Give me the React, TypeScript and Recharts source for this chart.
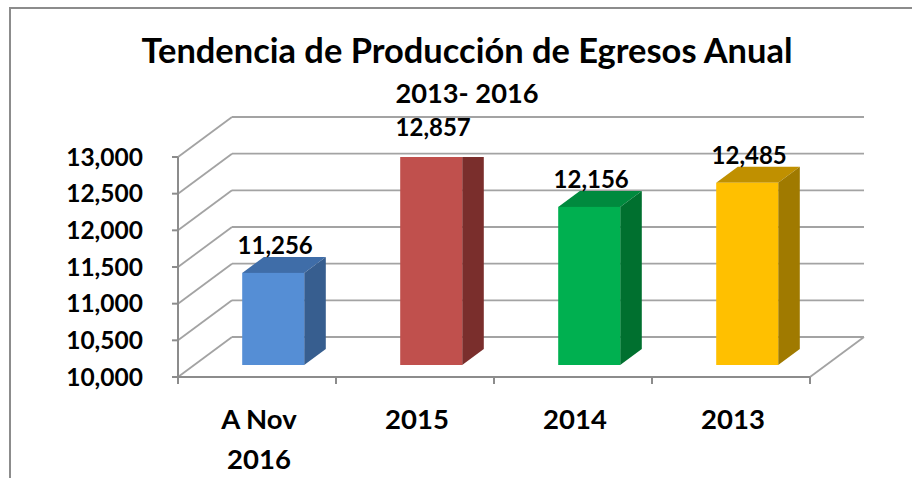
import React from 'react';
import { BarChart, Bar, XAxis, YAxis, CartesianGrid, LabelList, Customized } from 'recharts';

const categories = ['A Nov 2016', '2015', '2014', '2013'];
const egresos = [11256, 12857, 12156, 12485];
const yTicks = [10000, 10500, 11000, 11500, 12000, 12500, 13000];

const frontColors = ['#558ED5', '#C0504D', '#00B050', '#FFC000'];
const topColors = ['#3F6DA8', '#943634', '#008A3E', '#C09000'];
const sideColors = ['#375E8F', '#7A2E2C', '#00702F', '#A07A00'];

const data = categories.map((cat, i) => ({ cat, value: egresos[i] }));

// depth of the 3D box (back wall offset) and where the bars sit inside it
const DX = 54;
const DY = -40;
const FRONT = 0.3;
const DEPTH = 0.4;

const FONT = 'Lato, "Noto Sans", sans-serif';
const GRID = '#a3a3a3';
const AXIS = '#8c8c8c';

function Box3D(props: any) {
  const { x, y, width, height, index } = props;
  if (width == null || height == null) return null;
  const fx = Number(x) + DX * FRONT;
  const fy = Number(y) + DY * FRONT;
  const ox = DX * DEPTH;
  const oy = DY * DEPTH;
  const w = Number(width);
  const h = Number(height);
  return (
    <g>
      <polygon
        points={`${fx},${fy} ${fx + ox},${fy + oy} ${fx + w + ox},${fy + oy} ${fx + w},${fy}`}
        fill={topColors[index]}
      />
      <polygon
        points={`${fx + w},${fy} ${fx + w + ox},${fy + oy} ${fx + w + ox},${fy + h + oy} ${fx + w},${fy + h}`}
        fill={sideColors[index]}
      />
      <rect x={fx} y={fy} width={w} height={h} fill={frontColors[index]} />
    </g>
  );
}

function ValueLabel(props: any) {
  const { x, y, width, value } = props;
  return (
    <text
      x={Number(x) + Number(width) / 2 + DX * FRONT + 2}
      y={Number(y) + DY * FRONT - 19}
      textAnchor="middle"
      fontFamily={FONT}
      fontWeight={700}
      fontSize={24}
      fill="#000"
    >
      {Number(value).toLocaleString('en-US')}
    </text>
  );
}

function YTick(props: any) {
  const { x, y, payload } = props;
  return (
    <text x={x} y={y} dy="0.36em" textAnchor="end" fontFamily={FONT} fontWeight={700} fontSize={24.5} fill="#000">
      {Number(payload.value).toLocaleString('en-US')}
    </text>
  );
}

// category tick: label at the band centre, tick marks on the band edges
function XTick(props: any) {
  const { x, y, payload, index, width, visibleTicksCount } = props;
  const half = payload.offset || width / visibleTicksCount / 2;
  const label = String(payload.value);
  const cut = label.lastIndexOf(' ');
  const lines = label.length > 4 && cut > 0 ? [label.slice(0, cut), label.slice(cut + 1)] : [label];
  return (
    <g>
      <line x1={x - half} y1={y} x2={x - half} y2={y + 7} stroke={AXIS} strokeWidth={2} />
      {index === visibleTicksCount - 1 && (
        <line x1={x + half} y1={y} x2={x + half} y2={y + 7} stroke={AXIS} strokeWidth={2} />
      )}
      <text textAnchor="middle" fontFamily={FONT} fontWeight={700} fontSize={27.5} fill="#000">
        {lines.map((l, i) => (
          <tspan key={i} x={x + 2} y={y + 52 + i * 40}>
            {l}
          </tspan>
        ))}
      </text>
    </g>
  );
}

function gridLine(p: any) {
  const { x1, y1, x2, index, y, height } = p;
  const floor = Math.abs(y1 - (y + height)) < 1;
  return (
    <g key={`grid-${index}`}>
      <line x1={x1} y1={y1} x2={x1 + DX} y2={y1 + DY} stroke={GRID} strokeWidth={1.8} />
      <line x1={x1 + DX} y1={y1 + DY} x2={x2 + DX} y2={y1 + DY} stroke={GRID} strokeWidth={1.8} />
      {floor && <line x1={x2} y1={y1} x2={x2 + DX} y2={y1 + DY} stroke={GRID} strokeWidth={1.8} />}
    </g>
  );
}

function Titles() {
  return (
    <g fontFamily={FONT} fontWeight={700} fill="#000" textAnchor="middle">
      <text x={467} y={63} fontSize={34} textLength={651} lengthAdjust="spacingAndGlyphs">
        Tendencia de Producción de Egresos Anual
      </text>
      <text x={467} y={103} fontSize={27} textLength={143} lengthAdjust="spacingAndGlyphs">
        2013- 2016
      </text>
    </g>
  );
}

export default function App() {
  return (
    <div style={{ position: 'absolute', left: 0, top: 0, width: 912, height: 478, background: '#fff' }}>
      <div
        style={{
          position: 'absolute',
          left: 9,
          top: 7,
          right: 0,
          bottom: 0,
          borderLeft: `2px solid ${AXIS}`,
          borderTop: `2px solid ${AXIS}`,
        }}
      />
      <div style={{ position: 'absolute', left: 0, top: 0 }}>
        <BarChart width={912} height={478} data={data} margin={{ top: 157, right: 102, bottom: 0, left: 0 }}>
          <CartesianGrid vertical={false} horizontal={gridLine} />
          <XAxis
            dataKey="cat"
            interval={0}
            height={101}
            tickSize={0}
            tickMargin={0}
            tickLine={false}
            axisLine={{ stroke: AXIS, strokeWidth: 2 }}
            tick={<XTick />}
          />
          <YAxis
            type="number"
            domain={[10000, 13000]}
            ticks={yTicks}
            interval={0}
            allowDataOverflow
            width={178}
            tickSize={6}
            tickMargin={29}
            axisLine={{ stroke: AXIS, strokeWidth: 2 }}
            tickLine={{ stroke: AXIS, strokeWidth: 2 }}
            tick={<YTick />}
          />
          <Bar dataKey="value" barSize={62} shape={<Box3D />} isAnimationActive={false}>
            <LabelList dataKey="value" content={<ValueLabel />} />
          </Bar>
          <Customized component={<Titles />} />
        </BarChart>
      </div>
    </div>
  );
}
